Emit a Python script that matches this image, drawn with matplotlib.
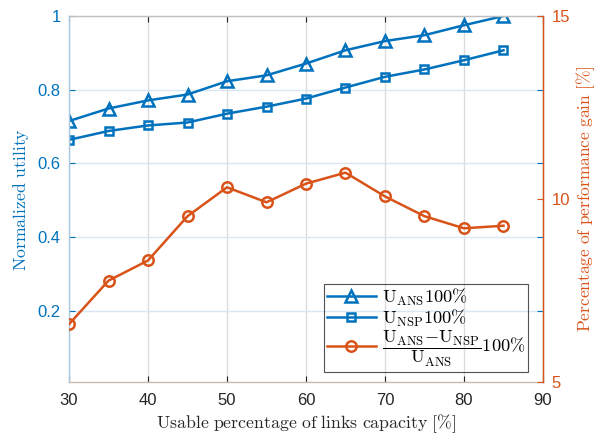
import matplotlib
matplotlib.use("Agg")
import matplotlib.pyplot as plt

plt.rcParams['mathtext.fontset'] = 'cm'
plt.rcParams['font.family'] = ['Liberation Sans', 'DejaVu Sans']

# Usable link capacity [%]
capacity = [30, 35, 40, 45, 50, 55, 60, 65, 70, 75, 80, 85]
# Normalized utility
u_ans = [0.715, 0.749, 0.771, 0.787, 0.823, 0.839, 0.871, 0.907, 0.932, 0.948, 0.975, 1.0]
u_nsp = [0.664, 0.688, 0.703, 0.711, 0.735, 0.754, 0.776, 0.806, 0.835, 0.855, 0.880, 0.907]
# Performance gain [%]
gain = [6.58, 7.77, 8.32, 9.53, 10.32, 9.91, 10.42, 10.72, 10.07, 9.53, 9.20, 9.27]

x_ticks = [30, 40, 50, 60, 70, 80, 90]
left_ticks = [0.2, 0.4, 0.6, 0.8, 1.0]
left_ticklabels = ['0.2', '0.4', '0.6', '0.8', '1']
right_ticks = [5, 10, 15]

BLUE = '#0072BD'
ORANGE = '#D95319'

fig = plt.figure(figsize=(5.99, 4.34), dpi=100)
ax = fig.add_axes([0.1152, 0.1198, 0.7913, 0.8433])
ax2 = ax.twinx()

l1, = ax.plot(capacity, u_ans, color=BLUE, lw=1.8, marker='^', ms=8.5,
              mfc='none', mew=1.8, label=r'$\mathrm{U_{ANS}100\%}$')
l2, = ax.plot(capacity, u_nsp, color=BLUE, lw=1.8, marker='s', ms=6,
              mfc='none', mew=1.8, label=r'$\mathrm{U_{NSP}100\%}$')
l3, = ax2.plot(capacity, gain, color=ORANGE, lw=1.8, marker='o', ms=7.5,
               mfc='none', mew=1.8,
               label=r'$\dfrac{\mathrm{U_{ANS}{-}U_{NSP}}}{\mathrm{U_{ANS}}}\mathrm{100\%}$')

ax.set_xlim(30, 90)
ax.set_ylim(0.0068, 1.0)
ax2.set_ylim(5, 15)

ax.set_xticks(x_ticks)
ax.set_yticks(left_ticks)
ax.set_yticklabels(left_ticklabels)
ax2.set_yticks(right_ticks)

ax.grid(axis='x', color='#dcdcdc', lw=1.0)
ax.grid(axis='y', color='#d8e7f3', lw=1.0)
ax.set_axisbelow(True)

ax.tick_params(axis='x', direction='in', length=4, top=True, colors='#262626',
               labelsize=12, width=0.8, pad=8)
ax.tick_params(axis='y', direction='in', length=4, right=True, colors=BLUE,
               labelsize=12, width=0.8, pad=6)
ax2.tick_params(axis='y', direction='in', length=4, colors=ORANGE,
                labelsize=12, width=0.8, pad=6)

ax.spines['left'].set_color('#a9c9e1')
ax.spines['bottom'].set_color('#c9b9b3')
ax.spines['top'].set_color('#c0c0c0')
ax.spines['right'].set_color('#c0c0c0')
for s in ['left', 'top', 'bottom']:
    ax2.spines[s].set_visible(False)
ax2.spines['right'].set_color(ORANGE)
for s in ax.spines.values():
    s.set_linewidth(1.0)
ax2.spines['right'].set_linewidth(1.0)

ax.set_xlabel(r'$\mathrm{Usable\ percentage\ of\ links\ capacity\ [\%]}$',
              fontsize=12.8, color='#262626', labelpad=3)
ax.set_ylabel(r'$\mathrm{Normalized\ utility}$', fontsize=12.8, color=BLUE, labelpad=5)
ax2.set_ylabel(r'$\mathrm{Percentage\ of\ performance\ gain\ [\%]}$',
               fontsize=12.5, color=ORANGE, labelpad=3)

leg = ax2.legend(handles=[l1, l2, l3], loc='lower right',
                 bbox_to_anchor=(0.968, 0.028), borderaxespad=0.0,
                 fontsize=13.2, frameon=True,
                 fancybox=False, edgecolor='#262626', facecolor='none',
                 framealpha=None, borderpad=0.15, labelspacing=0.0,
                 handlelength=2.7, handletextpad=0.3)
leg.get_frame().set_linewidth(0.8)

fig.savefig('out.png', dpi=100)
